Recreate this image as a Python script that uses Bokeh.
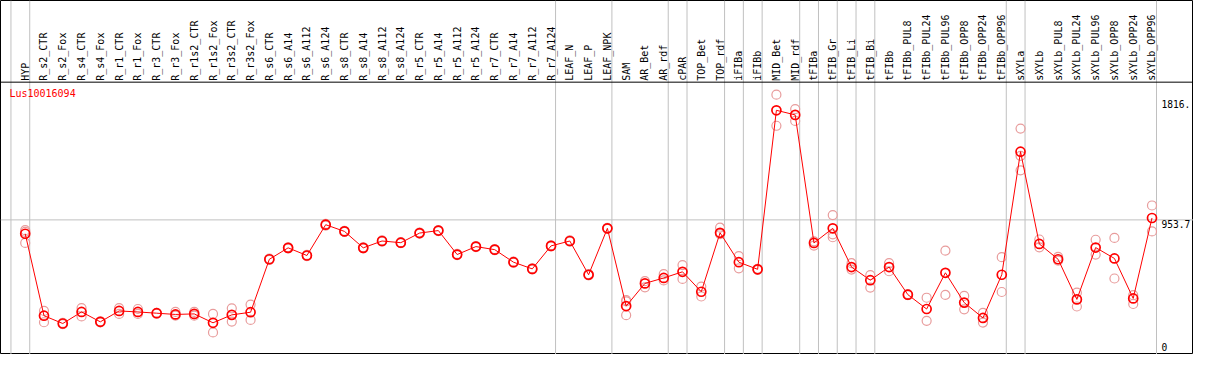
import math
from bokeh.plotting import figure
from bokeh.models import Range1d, Span, ColumnDataSource
from bokeh.core.properties import value
from bokeh.embed import file_html
from bokeh.resources import INLINE

gene = "Lus10016094"

samples = ["HYP", "R_s2_CTR", "R_s2_Fox", "R_s4_CTR", "R_s4_Fox", "R_r1_CTR", "R_r1_Fox",
           "R_r3_CTR", "R_r3_Fox", "R_r1s2_CTR", "R_r1s2_Fox", "R_r3s2_CTR", "R_r3s2_Fox",
           "R_s6_CTR", "R_s6_A14", "R_s6_A112", "R_s6_A124", "R_s8_CTR", "R_s8_A14",
           "R_s8_A112", "R_s8_A124", "R_r5_CTR", "R_r5_A14", "R_r5_A112", "R_r5_A124",
           "R_r7_CTR", "R_r7_A14", "R_r7_A112", "R_r7_A124", "LEAF_N", "LEAF_P", "LEAF_NPK",
           "SAM", "AR_Bet", "AR_rdf", "cPAR", "TOP_Bet", "TOP_rdf", "iFIBa", "iFIBb",
           "MID_Bet", "MID_rdf", "tFIBa", "tFIB_Gr", "tFIB_Li", "tFIB_Bi", "tFIBb",
           "tFIBb_PUL8", "tFIBb_PUL24", "tFIBb_PUL96", "tFIBb_OPP8", "tFIBb_OPP24",
           "tFIBb_OPP96", "sXYLa", "sXYLb", "sXYLb_PUL8", "sXYLb_PUL24", "sXYLb_PUL96",
           "sXYLb_OPP8", "sXYLb_OPP24", "sXYLb_OPP96"]

mean_vals = [854, 266, 210, 293, 222, 300, 293, 284, 275, 279, 215, 272, 291,
             671, 753, 698, 919, 871, 753, 802, 790, 859, 877, 705, 762, 740, 650, 602, 767,
             802, 560, 893, 335, 498, 537, 581, 438, 861, 650, 599, 1740, 1707,
             788, 893, 615, 521, 615, 417, 314, 574, 360, 250, 560,
             1443, 781, 671, 383, 755, 677, 390, 967]

rep_hi = [880, 300, 214, 321, 225, 321, 314, 287, 293, 293, 279, 319, 346,
          675, 757, 702, 925, 875, 757, 806, 794, 863, 881, 709, 766, 744, 654, 606, 771,
          806, 564, 897, 378, 514, 564, 629, 475, 898, 693, 603, 1852, 1749,
          800, 988, 643, 557, 643, 421, 395, 733, 408, 286, 686,
          1609, 813, 688, 431, 811, 824, 413, 1057]

rep_lo = [788, 219, 206, 261, 218, 279, 279, 281, 266, 266, 146, 224, 236,
          667, 749, 694, 913, 867, 749, 798, 786, 855, 873, 701, 758, 736, 646, 598, 763,
          798, 556, 889, 270, 470, 519, 530, 404, 852, 606, 595, 1629, 1664,
          769, 829, 597, 468, 585, 413, 229, 415, 312, 217, 436,
          1309, 757, 661, 332, 705, 533, 350, 871]

rep_extra_samples = ["HYP", "SAM", "tFIB_Gr", "sXYLa"]
rep_extra_vals = [868, 369, 850, 1413]

tick_values = [1816, 953.7, 0]
tick_labels = ["1816.", "953.7", "0"]

# indices of the sample after which a group separator is drawn
group_ends = [-1, 0, 28, 31, 34, 35, 37, 38, 39, 41, 42, 43, 44, 45, 52, 53, 60]

W, H = 1193, 354
Y_MIN, Y_MAX = -12.4, 2528.0
HEADER_Y = 1942.0

p = figure(width=W, height=H, x_range=Range1d(-1.316, 62.21), y_range=Range1d(Y_MIN, Y_MAX),
           output_backend="svg", toolbar_location=None, x_axis_type=None, y_axis_type=None,
           min_border=0, background_fill_color="white", border_fill_color="white")
p.outline_line_color = "black"
p.outline_line_width = 1

GRID = "#c0c0c0"
for g in group_ends:
    p.add_layout(Span(location=g + 0.24, dimension="height", line_color=GRID,
                      line_width=1, level="underlay"))
p.add_layout(Span(location=tick_values[1], dimension="width", line_color=GRID,
                  line_width=1, level="underlay"))
p.add_layout(Span(location=HEADER_Y, dimension="width", line_color="black",
                  line_width=1, level="underlay"))

xs = list(range(len(samples)))
font = value("DejaVu Sans Mono")

# header labels
hdr = ColumnDataSource(dict(x=xs, y=[HEADER_Y + 10] * len(xs), t=samples))
p.text(x="x", y="y", text="t", source=hdr, angle=math.pi / 2, text_align="left",
       text_baseline="middle", text_font=font, text_font_size="10px", text_color="black")

# replicates
rx = xs + xs + [samples.index(s) for s in rep_extra_samples]
ry = rep_hi + rep_lo + rep_extra_vals
p.scatter(rx, ry, marker="circle", size=9, fill_color=None, line_color="#e89c9c",
          line_width=1.2)

# mean line and points
p.line(xs, mean_vals, line_color="red", line_width=1)
p.scatter(xs, mean_vals, marker="circle", size=9, fill_color=None, line_color="red",
          line_width=1.7)

# gene label
p.text(x=[-0.84], y=[1859], text=[gene], text_align="left", text_baseline="middle",
       text_font=font, text_font_size="10px", text_color="red")

# value labels on the right
p.text(x=[60.5, 60.5], y=tick_values[:2], text=tick_labels[:2], text_align="left",
       text_baseline="top", text_font=font, text_font_size="9.6px", text_color="black")
p.text(x=[60.5], y=[Y_MIN + 24], text=[tick_labels[2]], text_align="left",
       text_baseline="bottom", text_font=font, text_font_size="9.6px", text_color="black")

open("out.html", "w").write(file_html(p, INLINE))
